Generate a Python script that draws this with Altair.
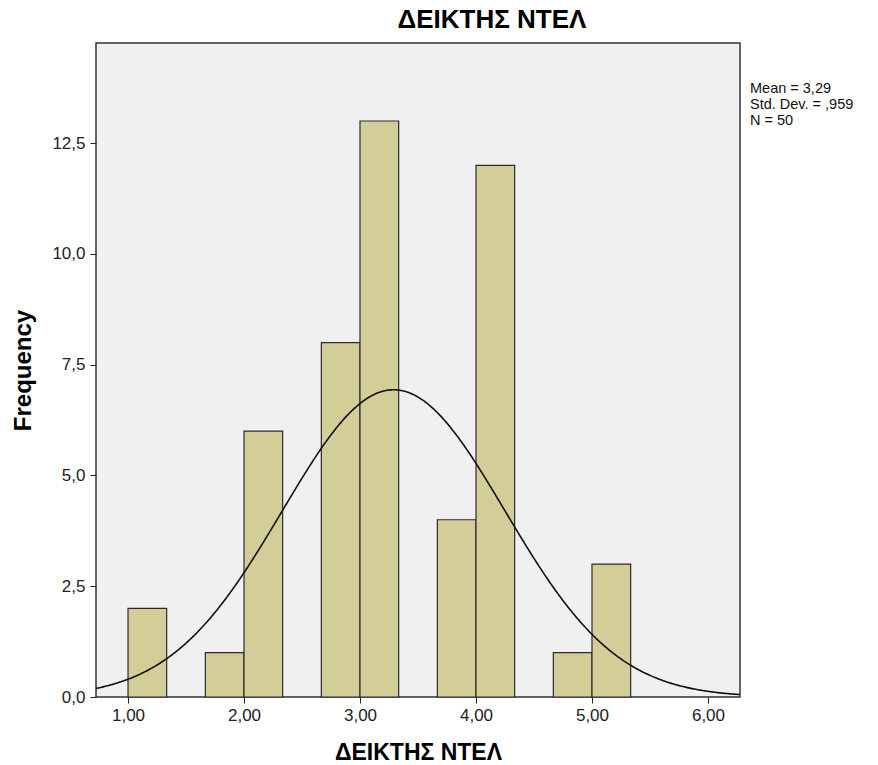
import altair as alt
import pandas as pd

# Histogram bins (lower edge, upper edge) and frequencies
bin_lo = [1.0, 1.6667, 2.0, 2.6667, 3.0, 3.6667, 4.0, 4.6667, 5.0]
bin_hi = [1.3333, 2.0, 2.3333, 3.0, 3.3333, 4.0, 4.3333, 5.0, 5.3333]
counts = [2, 1, 6, 8, 13, 4, 12, 1, 3]

mean_val = 3.29
sd_val = 0.959
n_val = 50
bin_width = 1 / 3

x_ticks = [1, 2, 3, 4, 5, 6]
y_ticks = [0, 2.5, 5.0, 7.5, 10.0, 12.5]
stats_lines = ["Mean = 3,29", "Std. Dev. = ,959", "N = 50"]

x_dom = [0.724, 6.276]
y_dom = [0, 14.76]

bars_df = pd.DataFrame({"lo": bin_lo, "hi": bin_hi, "count": counts})

font = "Liberation Sans"

xscale = alt.Scale(domain=x_dom, nice=False, zero=False)
yscale = alt.Scale(domain=y_dom, nice=False)

x_axis = alt.Axis(
    values=x_ticks,
    labelExpr="replace(format(datum.value, '.2f'), '.', ',')",
    title="ΔΕΙΚΤΗΣ ΝΤΕΛ",
    titleFont=font, titleFontSize=23, titleFontWeight="bold", titleColor="#000",
    titleY=62, titleBaseline="alphabetic", titleAnchor="middle",
    labelFont=font, labelFontSize=17, labelColor="#222",
    tickColor="#222", tickSize=6, domain=False, grid=False, labelPadding=4,
)
y_axis = alt.Axis(
    values=y_ticks,
    labelExpr="replace(format(datum.value, '.1f'), '.', ',')",
    title="Frequency",
    titleFont=font, titleFontSize=24, titleFontWeight="bold", titleColor="#000",
    labelFont=font, labelFontSize=17, labelColor="#222",
    tickColor="#222", tickSize=6, domain=False, grid=False, labelPadding=5,
    titlePadding=16,
)

bars = alt.Chart(bars_df).mark_rect(
    fill="#D3CE98", stroke="#2b2b2b", strokeWidth=1.2
).encode(
    x=alt.X("lo:Q", scale=xscale, axis=x_axis),
    x2="hi:Q",
    y=alt.Y("count:Q", scale=yscale, axis=y_axis),
    y2=alt.datum(0),
)

curve = alt.Chart(alt.sequence(start=x_dom[0], stop=x_dom[1] + 0.005, step=0.01, as_="x")).transform_calculate(
    y=f"{n_val} * {bin_width} * exp(-0.5 * pow((datum.x - {mean_val}) / {sd_val}, 2)) / ({sd_val} * sqrt(2 * PI))"
).mark_line(color="#111", strokeWidth=1.6, clip=True).encode(
    x=alt.X("x:Q", scale=xscale),
    y=alt.Y("y:Q", scale=yscale),
)

stats = alt.Chart(pd.DataFrame({"t": [0]})).mark_text(
    align="left", baseline="alphabetic", font=font, fontSize=14.5, color="#111",
    lineHeight=16, clip=False,
).encode(
    x=alt.value(654),
    y=alt.value(50),
    text=alt.value(stats_lines),
)

chart = alt.layer(bars, curve, stats).properties(
    width=644,
    height=654,
    title=alt.TitleParams(
        "ΔΕΙΚΤΗΣ ΝΤΕΛ", font=font, fontSize=26, fontWeight="bold", color="#000",
        anchor="middle", dx=74, offset=10,
    ),
    autosize=alt.AutoSizeParams(type="none"),
    padding={"left": 96, "top": 43, "right": 138, "bottom": 68},
    background="white",
).configure_view(
    fill="#F0F0F0", stroke="#333", strokeWidth=1.5,
)

chart.save("out.html", embed_options={"renderer": "svg", "actions": False})
